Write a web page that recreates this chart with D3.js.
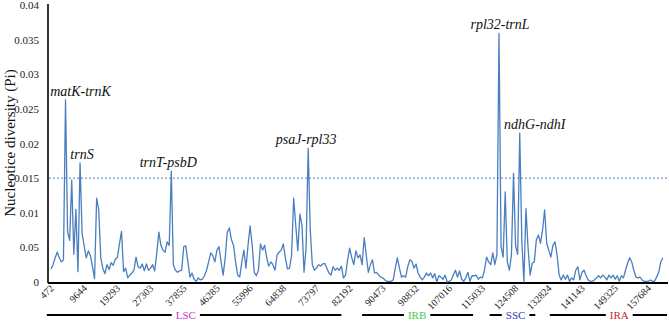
<!DOCTYPE html>
<html>
<head>
<meta charset="utf-8">
<script src="https://cdn.jsdelivr.net/npm/d3@7"></script>
<style>
    html, body { margin: 0; padding: 0; background: #fff; }
    #space { width: 669px; height: 321px; }
</style>
</head>
<body>
<div id="space"></div>
<script>
/************************************************
				Data
*************************************************/
var pi_values = [
    0.0019, 0.0025, 0.0035, 0.0043, 0.0035, 0.0029, 0.0032, 0.0263, 0.0072, 0.006,
    0.0147, 0.004, 0.0105, 0.0015, 0.0172, 0.007, 0.0052, 0.0035, 0.0045, 0.0038,
    0.0022, 0.0005, 0.0121, 0.0105, 0.0035, 0.002, 0.0012, 0.0025, 0.0018, 0.0028,
    0.0024, 0.0033, 0.0035, 0.0055, 0.0073, 0.0015, 0.002, 0.0006, 0.001, 0.0013,
    0.0017, 0.0036, 0.0022, 0.002, 0.0026, 0.0016, 0.0026, 0.0017, 0.002, 0.0025,
    0.0016, 0.0042, 0.0072, 0.0053, 0.0046, 0.0043, 0.0058, 0.0053, 0.016, 0.0025,
    0.0017, 0.0014, 0.0016, 0.0017, 0.0051, 0.0052, 0.0029, 0.0007, 0.0013, 0.0004,
    0.0001, 0.0006, 0.0003, 0.0004, 0.0009, 0.0017, 0.0029, 0.0042, 0.0038, 0.0029,
    0.0046, 0.0051, 0.0029, 0.001, 0.0035, 0.0072, 0.0078, 0.0061, 0.0053, 0.0029,
    0.001, 0.0007, 0.0029, 0.0046, 0.002, 0.0053, 0.0081, 0.0053, 0.0014, 0.0009,
    0.0017, 0.0055, 0.0046, 0.0053, 0.0035, 0.0023, 0.0029, 0.0025, 0.0017, 0.0039,
    0.0043, 0.0046, 0.0055, 0.0035, 0.0019, 0.002, 0.0039, 0.0121, 0.0082, 0.0045,
    0.0098, 0.0082, 0.0014, 0.005, 0.0193, 0.0075, 0.0025, 0.0017, 0.002, 0.0025,
    0.0023, 0.0026, 0.0027, 0.002, 0.0013, 0.001, 0.0022, 0.0017, 0.002, 0.0017,
    0.0023, 0.0006, 0.001, 0.0032, 0.0049, 0.0035, 0.0025, 0.0045, 0.0035, 0.0039,
    0.0025, 0.0064, 0.0039, 0.0014, 0.0025, 0.0032, 0.0013, 0.0014, 0.001, 0.0007,
    0.0006, 0.0003, 0.0001, 0.0001, 0.0001, 0.0003, 0.002, 0.0035, 0.002, 0.0007,
    0.0009, 0.0007, 0.0022, 0.0032, 0.003, 0.002, 0.0026, 0.0013, 0.0007, 0.0003,
    0.0007, 0.0013, 0.0009, 0.0013, 0.0006, 0.0012, 0, 0.0009, 0.0007, 0.0004,
    0.001, 0, 0.0001, 0.0003, 0.001, 0.0017, 0.0007, 0.0016, 0.0004, 0.0001,
    0.0006, 0.0014, 0.0001, 0.0009, 0.0009, 0.001, 0.0004, 0.0007, 0.0006, 0.0017,
    0.0036, 0.0029, 0.0025, 0.0042, 0.0025, 0.004, 0.0359, 0.0051, 0.0036, 0.013,
    0.0029, 0.0017, 0.0039, 0.0157, 0.0052, 0.004, 0.0215, 0.006, 0, 0.0106,
    0.005, 0.001, 0.0027, 0.0029, 0.0061, 0.0068, 0.0056, 0.0075, 0.0104, 0.0056,
    0.0046, 0.0036, 0.0053, 0.0058, 0.0039, 0.001, 0.0003, 0.001, 0.0004, 0.001,
    0.0001, 0.0006, 0.0003, 0.0017, 0.0022, 0.0003, 0.0014, 0.0017, 0.0009, 0.0003,
    0.0001, 0.0001, 0.0003, 0.0006, 0.0009, 0.0006, 0.001, 0.0007, 0.0003, 0.001,
    0.0006, 0.001, 0.0004, 0.0009, 0.0001, 0.0009, 0.0006, 0.0017, 0.0027, 0.0035,
    0.0029, 0.0017, 0.0007, 0.0006, 0.0007, 0.0003, 0.0001, 0.0001, 0.0001, 0.0003,
    0.0001, 0.0001, 0.0007, 0.0014, 0.0029, 0.0035
];

// window midpoints shown under the axis, one every 16 windows
var tick_labels = ["472", "9644", "19293", "27303", "37855", "46285", "55996", "64838", "73797",
    "82192", "90473", "98832", "107016", "115033", "124508", "132824", "141143", "149325", "157684"];

var y_ticks = [0, 0.005, 0.01, 0.015, 0.02, 0.025, 0.03, 0.035, 0.04];
var y_tick_text = ["0", "0.05", "0.01", "0.015", "0.02", "0.025", "0.03", "0.035", "0.04"];

// highly variable regions (window index of the peak)
var peak_names = ["matK-trnK", "trnS", "trnT-psbD", "psaJ-rpl33", "rpl32-trnL", "ndhG-ndhI"];
var peak_index = [7, 14, 58, 124, 216, 226];

// chloroplast regions (window index ranges)
var region_names = ["LSC", "IRB", "SSC", "IRA"];
var region_colors = ["#cc33cc", "#44cc44", "#3636c0", "#c42a2a"];
var region_start = [-2, 150, 211.5, 240.5];
var region_end = [140, 203.5, 233.5, 297];
var region_label_at = [65, 176.5, 224, 274];

var svg, x, y;
var serif = "'Liberation Serif', 'Times New Roman', serif";
var line_color = "#4a7ebf";

init();

function init() {
    svg = d3.select("#space").append("svg")
        .attr("xmlns", "http://www.w3.org/2000/svg")
        .attr("width", 669)
        .attr("height", 321);

    x = d3.scaleLinear().domain([0, 297]).range([51, 667]);
    y = d3.scaleLinear().domain([0, 0.04]).range([282, 5]);

    drawAxes();
    drawSeries();
    drawPeakLabels();
    drawRegions();
}

/************************************************
				Axes
*************************************************/
function drawAxes() {
    // threshold line
    svg.append("line")
        .attr("x1", 49).attr("x2", 668)
        .attr("y1", y(0.015)).attr("y2", y(0.015))
        .attr("stroke", line_color)
        .attr("stroke-width", 1)
        .attr("stroke-dasharray", "2,2");

    var yAxis = d3.axisLeft(y)
        .tickValues(y_ticks)
        .tickSize(0)
        .tickPadding(9)
        .tickFormat(function (d, i) { return y_tick_text[i]; });

    var gy = svg.append("g")
        .attr("transform", "translate(48,0)")
        .call(yAxis);
    gy.select(".domain").attr("stroke", "#000").attr("stroke-width", 1.6).attr("d", "M0,4V283");
    gy.selectAll("text")
        .attr("font-family", serif)
        .attr("font-size", "11px")
        .attr("fill", "#222");

    var tick_idx = tick_labels.map(function (d, i) { return i * 16; });
    var xAxis = d3.axisBottom(x)
        .tickValues(tick_idx)
        .tickSize(0)
        .tickFormat(function (d, i) { return tick_labels[i]; });

    var gx = svg.append("g")
        .attr("transform", "translate(0,283)")
        .call(xAxis);
    gx.select(".domain").attr("stroke", "#000").attr("stroke-width", 2).attr("d", "M48,0H668");
    gx.selectAll("text")
        .attr("font-family", serif)
        .attr("font-size", "10px")
        .attr("fill", "#222")
        .attr("text-anchor", "end")
        .attr("dy", 0)
        .attr("y", 0)
        .attr("transform", "translate(3,6) rotate(-45)");

    svg.append("text")
        .attr("transform", "translate(15,143) rotate(-90)")
        .attr("text-anchor", "middle")
        .attr("font-family", serif)
        .attr("font-size", "15px")
        .attr("fill", "#111")
        .text("Nucleotice diversity (Pi)");
}

/************************************************
				Series
*************************************************/
function drawSeries() {
    var line = d3.line()
        .x(function (d, i) { return x(i); })
        .y(function (d) { return y(d); });

    svg.append("path")
        .datum(pi_values)
        .attr("fill", "none")
        .attr("stroke", line_color)
        .attr("stroke-width", 1.3)
        .attr("stroke-linejoin", "round")
        .attr("d", line);
}

function drawPeakLabels() {
    var dx = [15, 2, -3, -2, 1, 15];
    svg.append("g").selectAll("text")
        .data(peak_names)
        .enter()
        .append("text")
        .attr("x", function (d, i) { return x(peak_index[i]) + dx[i]; })
        .attr("y", function (d, i) { return y(pi_values[peak_index[i]]) - 4; })
        .attr("text-anchor", "middle")
        .attr("font-family", serif)
        .attr("font-style", "italic")
        .attr("font-size", "14px")
        .attr("fill", "#111")
        .text(function (d) { return d; });
}

/************************************************
				Regions
*************************************************/
function drawRegions() {
    var g = svg.append("g");
    var ry = 315;

    for (var i = 0; i < region_names.length; i++) {
        var cx = x(region_label_at[i]);
        var label = g.append("text")
            .attr("x", cx)
            .attr("y", ry + 4)
            .attr("text-anchor", "middle")
            .attr("font-family", serif)
            .attr("font-size", "11px")
            .attr("fill", region_colors[i])
            .text(region_names[i]);

        var half = label.node().getComputedTextLength() / 2 + 4;

        g.append("line")
            .attr("x1", x(region_start[i])).attr("x2", cx - half)
            .attr("y1", ry).attr("y2", ry)
            .attr("stroke", "#000").attr("stroke-width", 2);
        g.append("line")
            .attr("x1", cx + half).attr("x2", x(region_end[i]))
            .attr("y1", ry).attr("y2", ry)
            .attr("stroke", "#000").attr("stroke-width", 2);
    }
}
</script>
</body>
</html>
